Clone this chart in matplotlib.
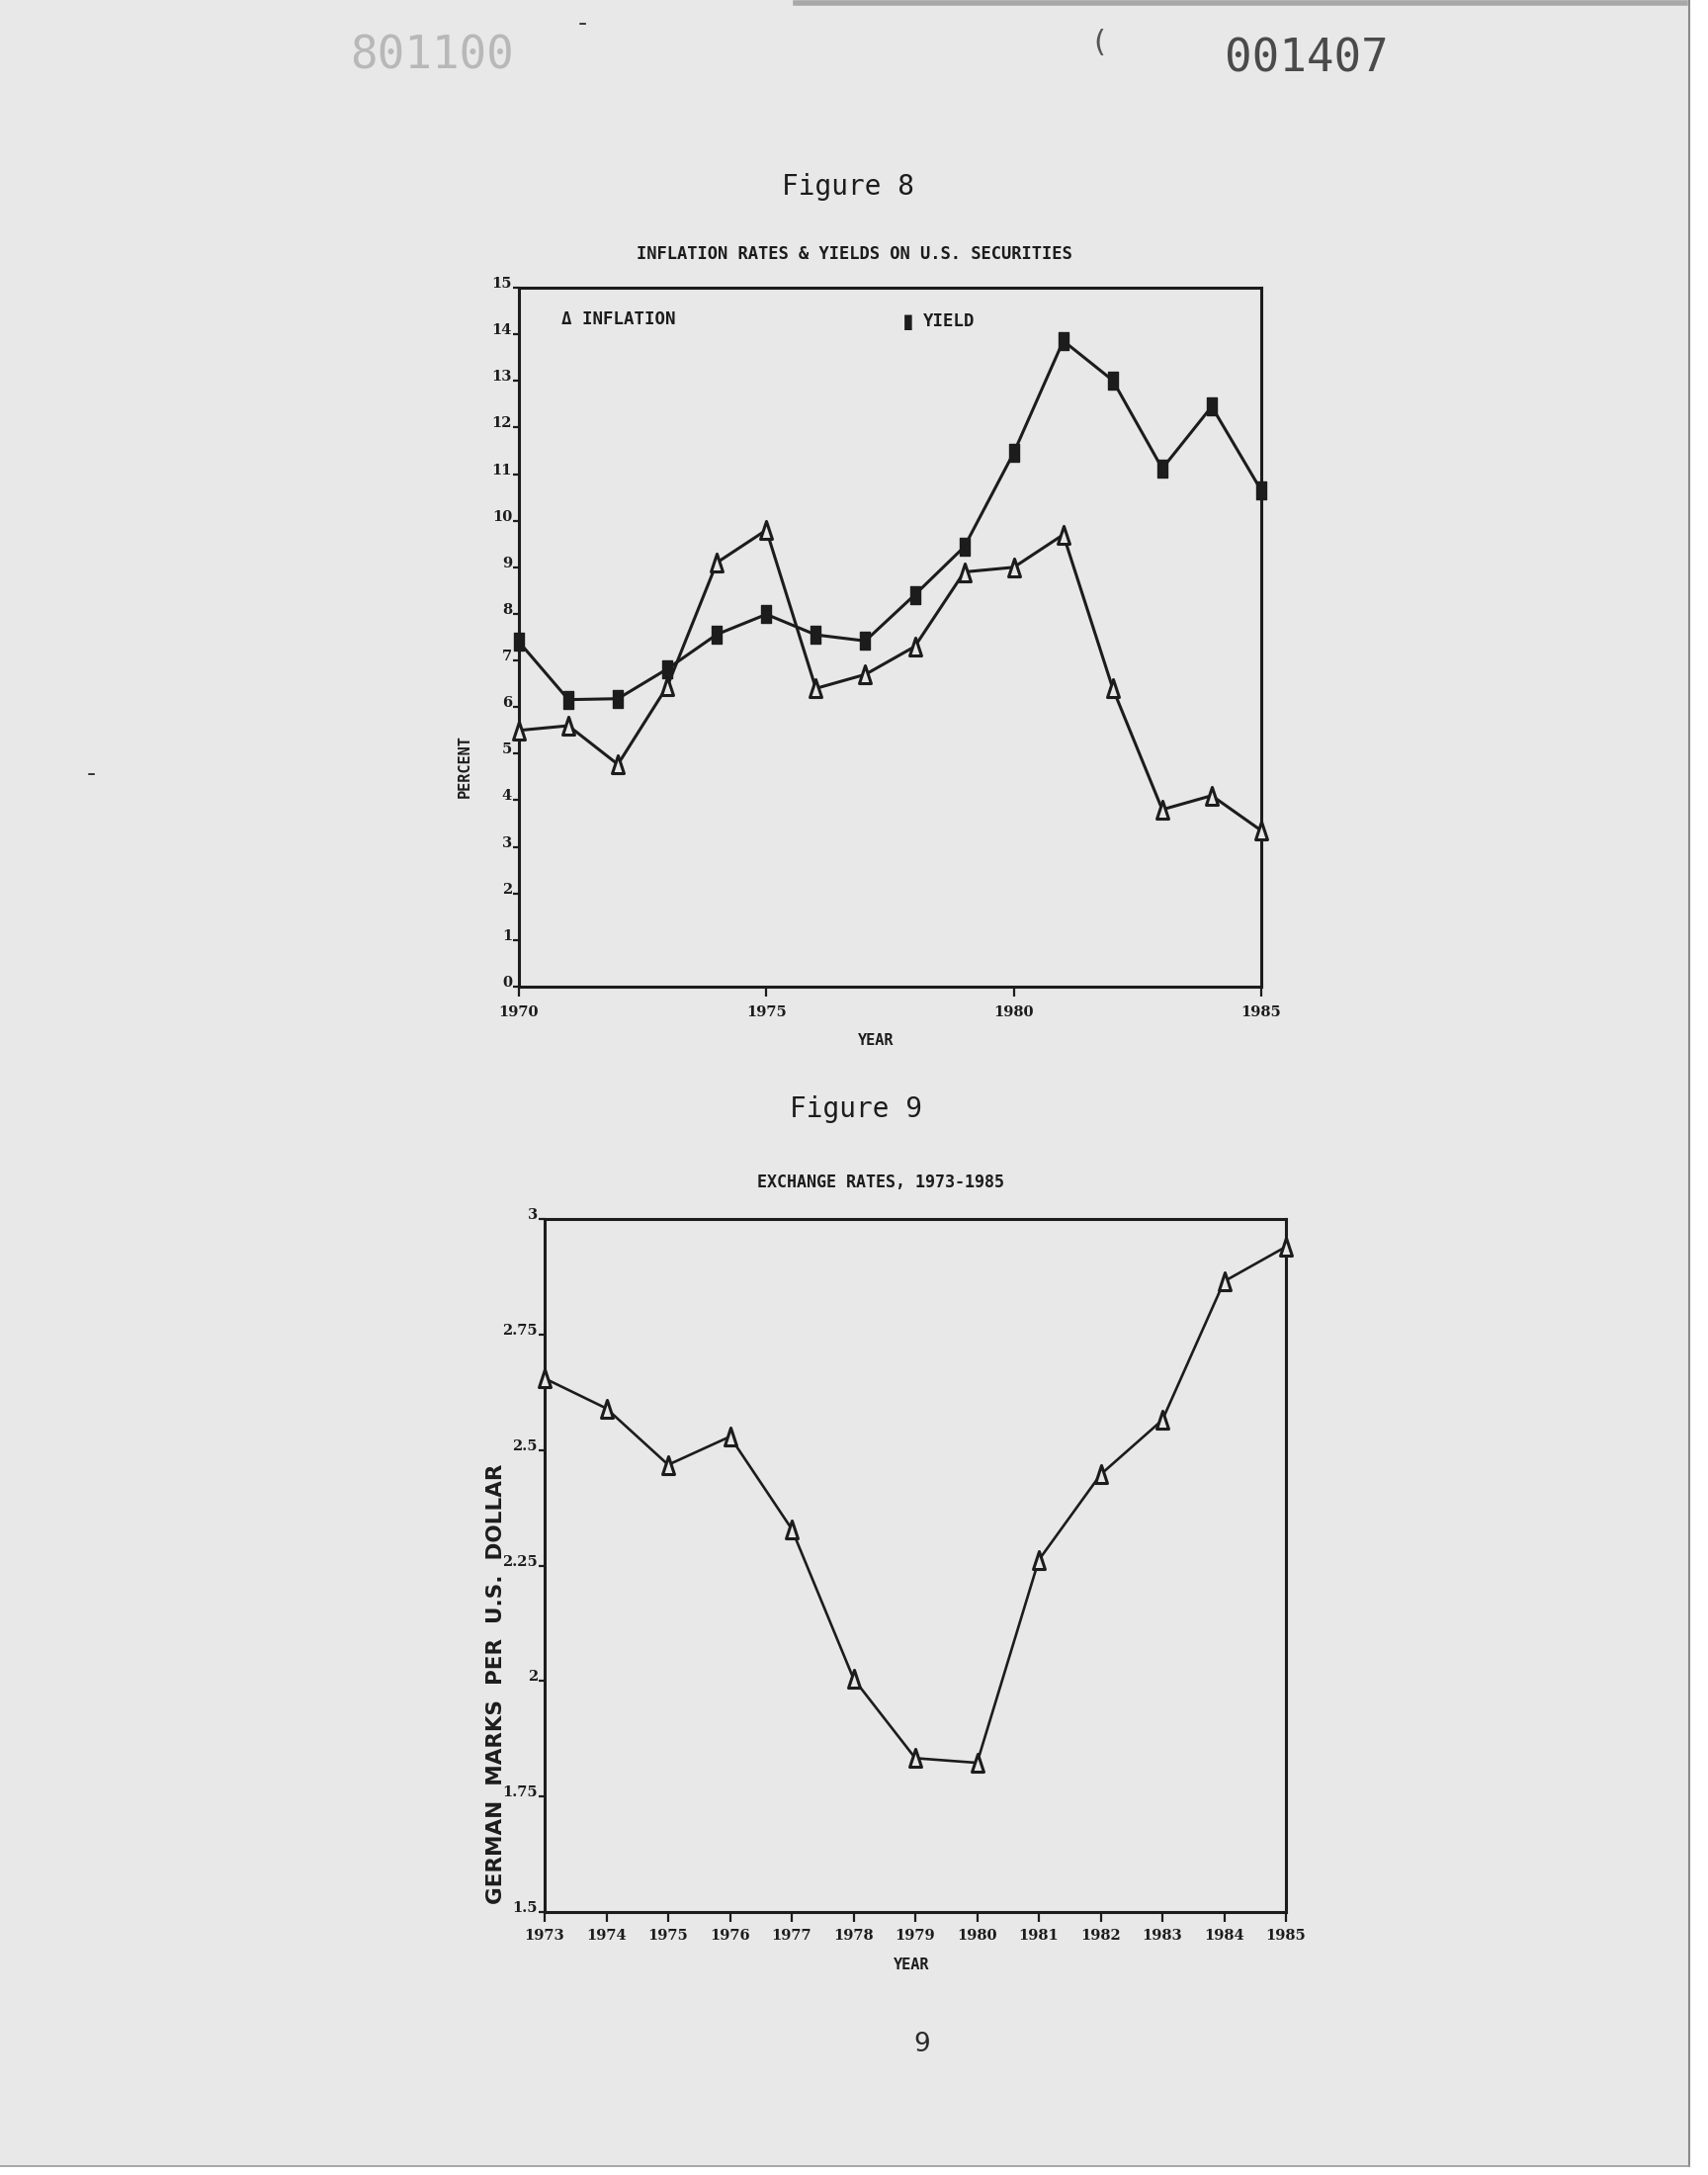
import matplotlib
matplotlib.use("Agg")
import matplotlib.pyplot as plt
from matplotlib.patches import Rectangle
from matplotlib.lines import Line2D
from matplotlib.path import Path

# ---------------- data ----------------
years8 = list(range(1970, 1986))
inflation = [5.5, 5.6, 4.77, 6.45, 9.1, 9.8, 6.4, 6.7, 7.3, 8.9, 9.0, 9.7, 6.4, 3.8, 4.1, 3.35]
yields = [7.4, 6.16, 6.18, 6.82, 7.56, 7.99, 7.55, 7.42, 8.41, 9.44, 11.46, 13.86, 13.01, 11.12, 12.45, 10.65]
yticks8 = list(range(0, 16))
xticks8 = [1970, 1975, 1980, 1985]

years9 = list(range(1973, 1986))
dm_per_usd = [2.655, 2.59, 2.468, 2.529, 2.329, 2.005, 1.833, 1.823, 2.262, 2.447, 2.565, 2.865, 2.94]
yticks9 = [1.5, 1.75, 2, 2.25, 2.5, 2.75, 3]
yticklabels9 = ["1.5", "1.75", "2", "2.25", "2.5", "2.75", "3"]

title8 = "INFLATION RATES & YIELDS ON U.S. SECURITIES"
title9 = "EXCHANGE RATES, 1973-1985"

# ---------------- style ----------------
W, H = 1728, 2200
PAGE = "#e8e8e8"
INK = "#1c1c1c"
MONO = ["DejaVu Sans Mono", "DejaVu Sans"]
TICKFONT = ["DejaVu Serif"]

fig = plt.figure(figsize=(W / 100, H / 100), dpi=100)
fig.patch.set_facecolor("white")

def fx(x):
    return x / W

def fy(y):
    return 1 - y / H

# page of the scan
fig.patches.append(Rectangle((0, fy(2191)), fx(1709), 1 - fy(2191), transform=fig.transFigure,
                             facecolor=PAGE, edgecolor="none", zorder=-10))
fig.lines.append(Line2D([fx(1709), fx(1709)], [fy(2191), 1], transform=fig.transFigure,
                        color="#8a8a8a", lw=1.5))
fig.lines.append(Line2D([0, fx(1709)], [fy(2191), fy(2191)], transform=fig.transFigure,
                        color="#9a9a9a", lw=1.2))
fig.lines.append(Line2D([fx(805), fx(1705)], [fy(3), fy(3)], transform=fig.transFigure,
                        color="#a8a8a8", lw=4))

# markers: tall rectangle and tall triangle
rect_marker = Path([(-0.3, -0.5), (0.3, -0.5), (0.3, 0.5), (-0.3, 0.5), (-0.3, -0.5)],
                   [Path.MOVETO, Path.LINETO, Path.LINETO, Path.LINETO, Path.CLOSEPOLY])
tri_marker = Path([(-0.33, -0.5), (0.33, -0.5), (0.0, 0.5), (-0.33, -0.5)],
                  [Path.MOVETO, Path.LINETO, Path.LINETO, Path.CLOSEPOLY])

# ---------------- Figure 8 ----------------
ax1 = fig.add_axes([fx(525), fy(998), fx(1276) - fx(525), fy(291) - fy(998)])
ax1.set_facecolor("none")
ax1.plot(years8, yields, color=INK, lw=2.2, marker=rect_marker, ms=13,
         mfc=INK, mec=INK, mew=1, clip_on=False, zorder=3)
ax1.plot(years8, inflation, color=INK, lw=2.2, marker=tri_marker, ms=13,
         mfc=PAGE, mec=INK, mew=2.2, clip_on=False, zorder=4)
ax1.set_xlim(1970, 1985)
ax1.set_ylim(0, 15)
ax1.set_xticks(xticks8)
ax1.set_xticklabels([str(v) for v in xticks8])
ax1.set_yticks(yticks8)
ax1.set_yticklabels([str(v) for v in yticks8])
for s in ax1.spines.values():
    s.set_linewidth(2.2)
    s.set_color(INK)
ax1.tick_params(axis="x", direction="out", length=7, width=1.6, pad=7, colors=INK)
ax1.tick_params(axis="y", direction="out", length=4, width=1.6, pad=1, colors=INK)
for lab in ax1.get_xticklabels() + ax1.get_yticklabels():
    lab.set_fontfamily(TICKFONT)
    lab.set_fontweight("bold")
    lab.set_fontsize(10.5)
for lab in ax1.get_yticklabels():
    lab.set_verticalalignment("baseline")

fig.text(fx(568), fy(323), "Δ INFLATION", family=MONO,
         weight="bold", fontsize=12.5, color=INK, ha="left", va="center")
fig.text(fx(911), fy(326), "▮", family=MONO,
         weight="bold", fontsize=19, color=INK, ha="left", va="center")
fig.text(fx(934), fy(325), "YIELD", family=MONO,
         weight="bold", fontsize=12.5, color=INK, ha="left", va="center")

fig.text(fx(858), fy(189), "Figure 8", family=MONO, fontsize=20, color=INK,
         ha="center", va="center")
fig.text(fx(864), fy(257), title8, family=MONO, weight="bold", fontsize=12.3,
         color=INK, ha="center", va="center")
fig.text(fx(470), fy(775), "PERCENT", family=MONO, weight="bold", fontsize=11,
         color=INK, rotation=90, ha="center", va="center")
fig.text(fx(886), fy(1052), "YEAR", family=MONO, weight="bold", fontsize=11,
         color=INK, ha="center", va="center")

# ---------------- Figure 9 ----------------
ax2 = fig.add_axes([fx(551), fy(1934), fx(1301) - fx(551), fy(1233) - fy(1934)])
ax2.set_facecolor("none")
ax2.plot(years9, dm_per_usd, color=INK, lw=1.9, marker=tri_marker, ms=13,
         mfc=PAGE, mec=INK, mew=2.2, clip_on=False, zorder=4)
ax2.set_xlim(1973, 1985)
ax2.set_ylim(1.5, 3)
ax2.set_xticks(years9)
ax2.set_xticklabels([str(v) for v in years9])
ax2.set_yticks(yticks9)
ax2.set_yticklabels(yticklabels9)
for s in ax2.spines.values():
    s.set_linewidth(2.2)
    s.set_color(INK)
ax2.tick_params(axis="x", direction="out", length=7, width=1.6, pad=5, colors=INK)
ax2.tick_params(axis="y", direction="out", length=4, width=1.6, pad=1, colors=INK)
for lab in ax2.get_xticklabels() + ax2.get_yticklabels():
    lab.set_fontfamily(TICKFONT)
    lab.set_fontweight("bold")
    lab.set_fontsize(10.5)
for lab in ax2.get_yticklabels():
    lab.set_verticalalignment("baseline")

fig.text(fx(866), fy(1122), "Figure 9", family=MONO, fontsize=20, color=INK,
         ha="center", va="center")
fig.text(fx(891), fy(1196), title9, family=MONO, weight="bold", fontsize=12,
         color=INK, ha="center", va="center")
fig.text(fx(502), fy(1703), "GERMAN  MARKS  PER  U.S.  DOLLAR", family=["DejaVu Sans"],
         weight="bold", fontsize=15.5, color=INK, rotation=90, ha="center", va="center")
fig.text(fx(922), fy(1987), "YEAR", family=MONO, weight="bold", fontsize=11,
         color=INK, ha="center", va="center")

# ---------------- page furniture ----------------
fig.text(fx(933), fy(2068), "9", family=["DejaVu Sans"], fontsize=19, color="#2a2a2a",
         ha="center", va="center")
fig.text(fx(1322), fy(60), "001407", family=MONO, fontsize=33, color="#4a4a4a",
         ha="center", va="center")
fig.text(fx(437), fy(57), "801100", family=MONO, fontsize=33, color="#b8b8b8",
         ha="center", va="center")
fig.text(fx(589), fy(24), "-", family=["DejaVu Sans"], fontsize=18, color="#333333",
         ha="center", va="center")
fig.text(fx(1112), fy(44), "(", family=["DejaVu Sans"], fontsize=22, color="#555555",
         ha="center", va="center")
fig.text(fx(92), fy(783), "-", family=["DejaVu Sans"], fontsize=18, color="#333333",
         ha="center", va="center")

fig.savefig("out.png", dpi=100, facecolor=fig.get_facecolor())
